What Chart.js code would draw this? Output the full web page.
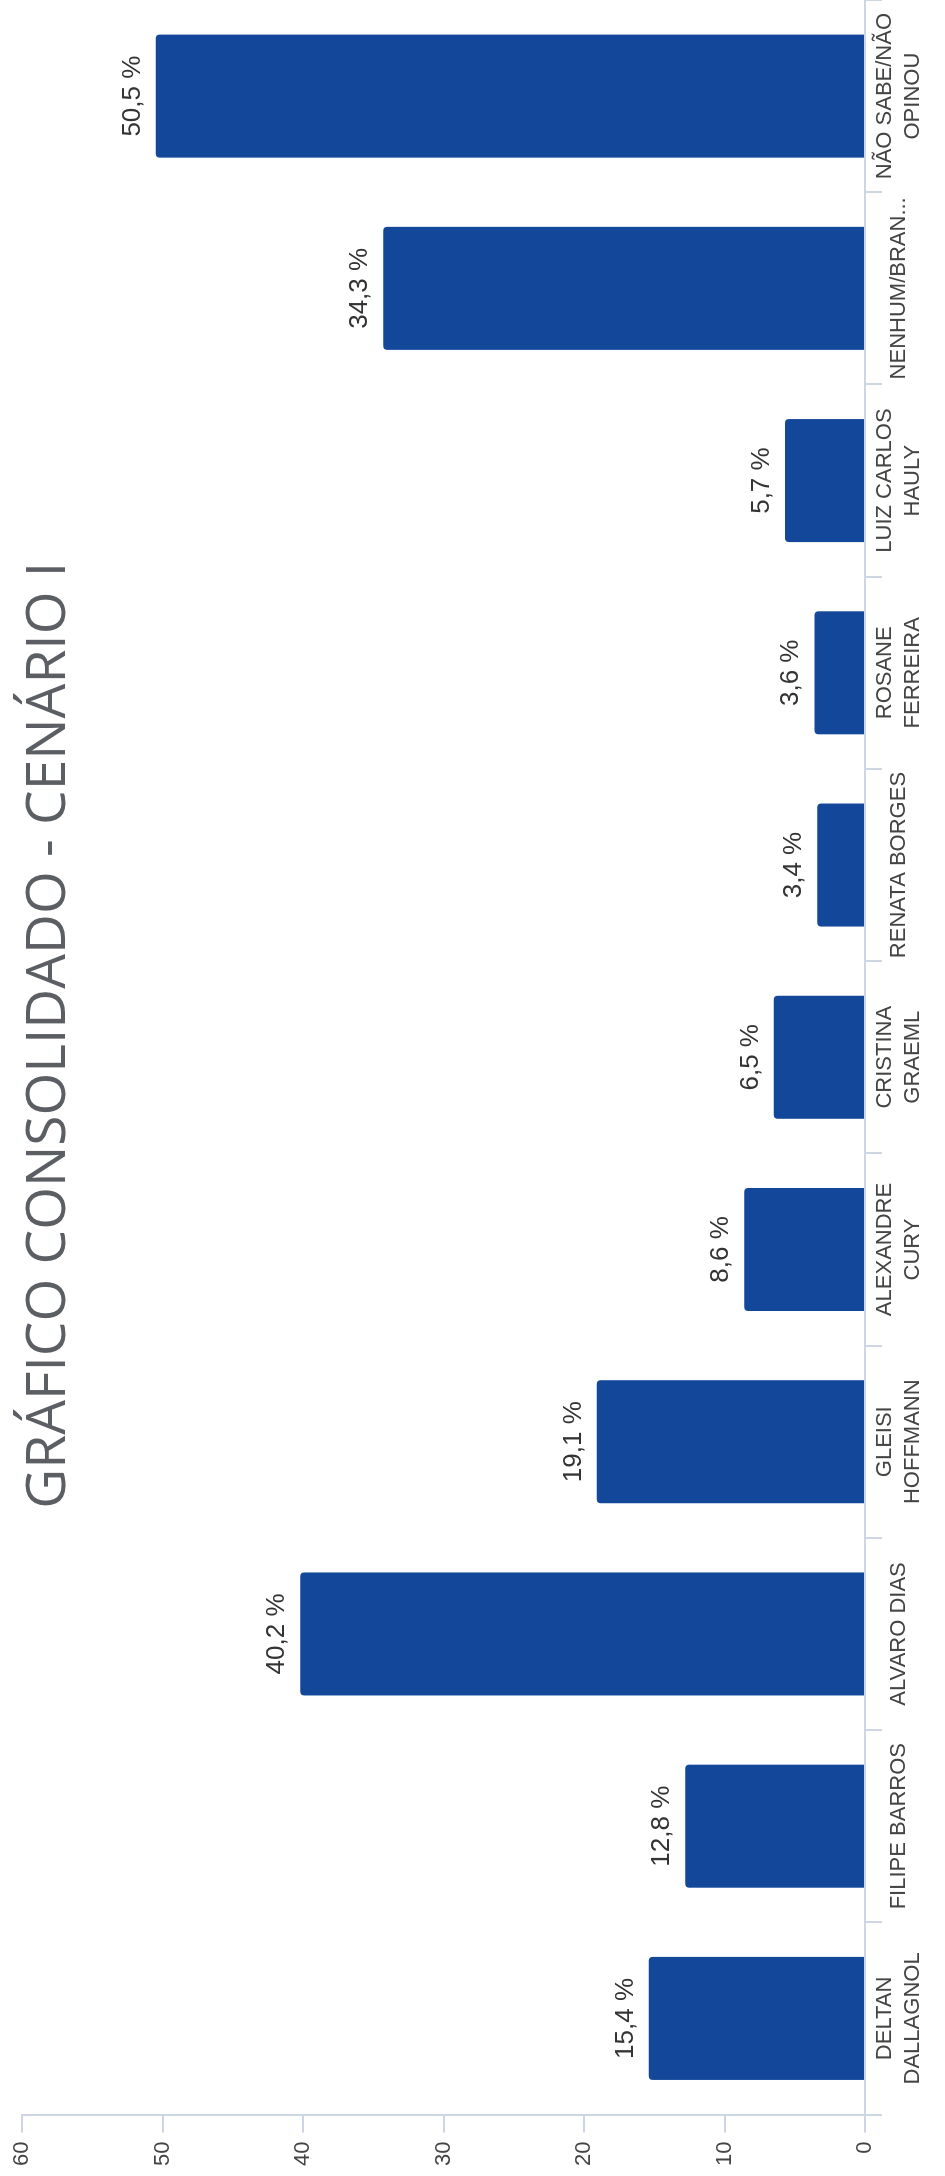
<!DOCTYPE html>
<html>
<head>
<meta charset="utf-8">
<script src="https://cdn.jsdelivr.net/npm/chart.js@4"></script>
<style>
    html, body { margin: 0; padding: 0; background: #fff; overflow: hidden; }
    /* o gráfico original é horizontal (2176x945) e aparece girado 90° */
    #wrap {
        position: absolute; left: 0; top: 0;
        width: 2176px; height: 945px;
        transform-origin: top left;
        transform: translate(0, 2176px) rotate(-90deg);
    }
</style>
</head>
<body>
<div id="wrap"><canvas id="chart" width="2176" height="945"></canvas></div>
<script>
// Dados
const categories = [
    ['DELTAN', 'DALLAGNOL'],
    'FILIPE BARROS',
    'ALVARO DIAS',
    ['GLEISI', 'HOFFMANN'],
    ['ALEXANDRE', 'CURY'],
    ['CRISTINA', 'GRAEML'],
    'RENATA BORGES',
    ['ROSANE', 'FERREIRA'],
    ['LUIZ CARLOS', 'HAULY'],
    'NENHUM/BRAN...',
    ['NÃO SABE/NÃO', 'OPINOU']
];
const percentages = [15.4, 12.8, 40.2, 19.1, 8.6, 6.5, 3.4, 3.6, 5.7, 34.3, 50.5];
const valueTicks = [0, 10, 20, 30, 40, 50, 60];
const chartTitle = 'GRÁFICO CONSOLIDADO - CENÁRIO I';

const sans = "'Liberation Sans', Arial, sans-serif";
const axisColor = '#cfd6e3';

// Rótulos de valor acima das barras
const valueLabels = {
    id: 'valueLabels',
    afterDatasetsDraw(chart) {
        const ctx = chart.ctx;
        const meta = chart.getDatasetMeta(0);
        ctx.save();
        ctx.font = '26px ' + sans;
        ctx.fillStyle = '#333333';
        ctx.textAlign = 'center';
        ctx.textBaseline = 'alphabetic';
        meta.data.forEach((bar, i) => {
            const txt = percentages[i].toFixed(1).replace('.', ',') + ' %';
            ctx.fillText(txt, bar.x, bar.y - 16);
        });
        ctx.restore();
    }
};

// Título desenhado sobre a área do gráfico
const titleOverlay = {
    id: 'titleOverlay',
    afterDraw(chart) {
        const ctx = chart.ctx;
        const area = chart.chartArea;
        ctx.save();
        ctx.font = "55px 'Open Sans', 'Noto Sans', sans-serif";
        ctx.fillStyle = '#5b5f64';
        ctx.textAlign = 'center';
        ctx.textBaseline = 'alphabetic';
        ctx.fillText(chartTitle, (area.left + area.right) / 2 + 22, 65);
        ctx.restore();
    }
};

const chart = new Chart(document.getElementById('chart').getContext('2d'), {
    type: 'bar',
    data: {
        labels: categories,
        datasets: [{
            data: percentages,
            backgroundColor: '#12479a',
            borderRadius: 4,
            barPercentage: 0.8,
            categoryPercentage: 0.8
        }]
    },
    options: {
        responsive: false,
        animation: false,
        devicePixelRatio: 1,
        layout: { padding: { left: 1, top: 15, right: 0, bottom: 2 } },
        plugins: {
            legend: { display: false },
            title: { display: false },
            tooltip: { enabled: false }
        },
        scales: {
            x: {
                grid: { drawOnChartArea: false, color: axisColor, tickLength: 17, lineWidth: 2 },
                border: { color: axisColor, width: 2 },
                ticks: {
                    color: '#444444',
                    font: { size: 22, family: sans, lineHeight: 1.25 },
                    maxRotation: 0,
                    minRotation: 0,
                    autoSkip: false,
                    crossAlign: 'center',
                    padding: 3
                }
            },
            y: {
                min: valueTicks[0],
                max: valueTicks[valueTicks.length - 1],
                afterBuildTicks(scale) {
                    scale.ticks = valueTicks.map(v => ({ value: v }));
                },
                grid: { drawOnChartArea: false, color: axisColor, tickLength: 18, lineWidth: 2 },
                border: { color: axisColor, width: 2 },
                ticks: {
                    color: '#444444',
                    font: { size: 22, family: sans },
                    padding: 9
                }
            }
        }
    },
    plugins: [valueLabels, titleOverlay]
});
</script>
</body>
</html>
